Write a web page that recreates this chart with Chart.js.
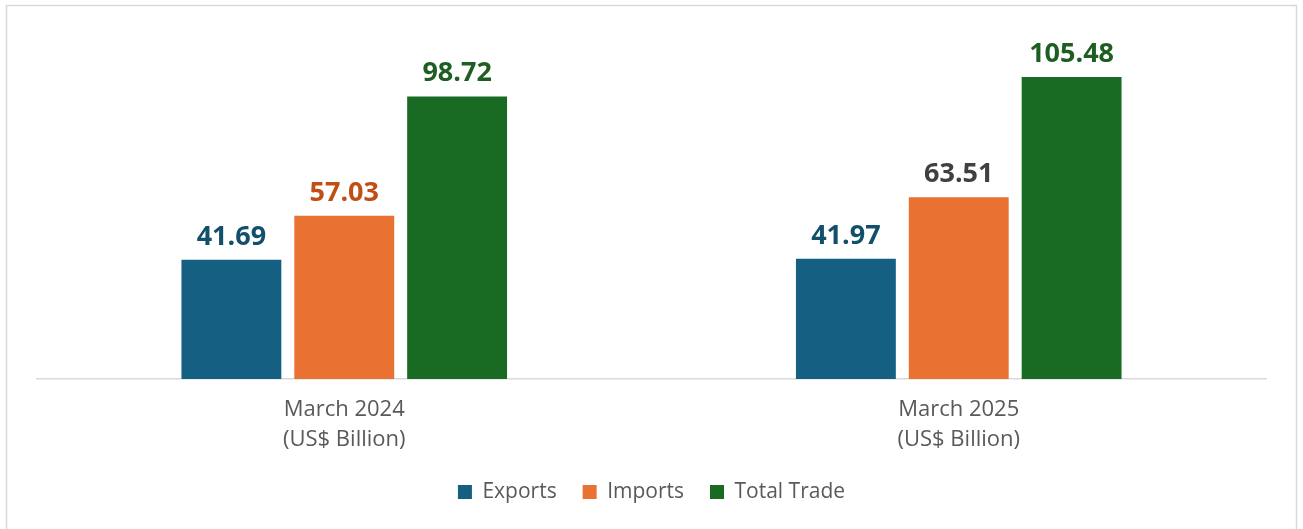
<!DOCTYPE html>
<html>
<head>
<meta charset="utf-8">
<script src="https://cdn.jsdelivr.net/npm/chart.js@4"></script>
<style>
  html, body { margin: 0; padding: 0; background: #ffffff; }
  #wrap { position: relative; width: 1303px; height: 529px; }
</style>
</head>
<body>
<div id="wrap"><canvas id="myChart" width="1303" height="529"></canvas></div>
<script>
const categories = [['March 2024', '(US$ Billion)'], ['March 2025', '(US$ Billion)']];
const seriesNames = ['Exports', 'Imports', 'Total Trade'];
const exportsData = [41.69, 41.97];
const importsData = [57.03, 63.51];
const totalData = [98.72, 105.48];

const barColors = ['#156082', '#E97132', '#196B24'];
// label colours per point (the 2025 imports label is dark grey in the original)
const labelColors = [
    ['#124F6C', '#124F6C'],
    ['#C04F15', '#404040'],
    ['#1E5E22', '#1E5E22']
];

const ctx = document.getElementById('myChart').getContext('2d');

//outer frame
const frame = {
    id: 'frame',
    beforeDraw: chart => {
        const c = chart.ctx;
        c.save();
        c.strokeStyle = '#D9D9D9';
        c.lineWidth = 1.5;
        c.strokeRect(6.5, 5.5, 1290, 600);
        c.restore();
    }
};

//value labels above bars
const valueLabels = {
    id: 'valueLabels',
    afterDatasetsDraw: chart => {
        const c = chart.ctx;
        c.save();
        c.font = "bold 27px 'Open Sans', sans-serif";
        c.textAlign = 'center';
        c.textBaseline = 'alphabetic';
        chart.data.datasets.forEach((ds, i) => {
            chart.getDatasetMeta(i).data.forEach((bar, j) => {
                c.fillStyle = labelColors[i][j];
                c.fillText(ds.data[j].toFixed(2), bar.x, bar.y - 15);
            });
        });
        c.restore();
    }
};

const data = {
    labels: categories,
    datasets: [
        { label: seriesNames[0], data: exportsData, backgroundColor: barColors[0] },
        { label: seriesNames[1], data: importsData, backgroundColor: barColors[1] },
        { label: seriesNames[2], data: totalData, backgroundColor: barColors[2] }
    ]
};

const config = {
    type: 'bar',
    data: data,
    options: {
        responsive: false,
        animation: false,
        events: [],
        categoryPercentage: 0.551,
        barPercentage: 0.885,
        layout: {
            padding: { left: 37, right: 37, top: 20, bottom: 16.5 }
        },
        scales: {
            y: {
                display: false,
                min: 0,
                max: 125.4
            },
            x: {
                grid: { display: false, drawTicks: false },
                border: { display: true, color: '#D9D9D9', width: 1.5 },
                ticks: {
                    color: '#595959',
                    padding: 15,
                    font: { family: "'Open Sans', sans-serif", size: 22, lineHeight: 1.4 }
                },
                afterFit: scale => { scale.height = 76.5; }
            }
        },
        plugins: {
            legend: {
                position: 'bottom',
                labels: {
                    boxWidth: 14,
                    boxHeight: 14,
                    padding: 26,
                    color: '#595959',
                    font: { family: "'Open Sans', sans-serif", size: 21 }
                }
            },
            tooltip: { enabled: false }
        }
    },
    plugins: [frame, valueLabels]
};

const myChart = new Chart(ctx, config);
</script>
</body>
</html>
